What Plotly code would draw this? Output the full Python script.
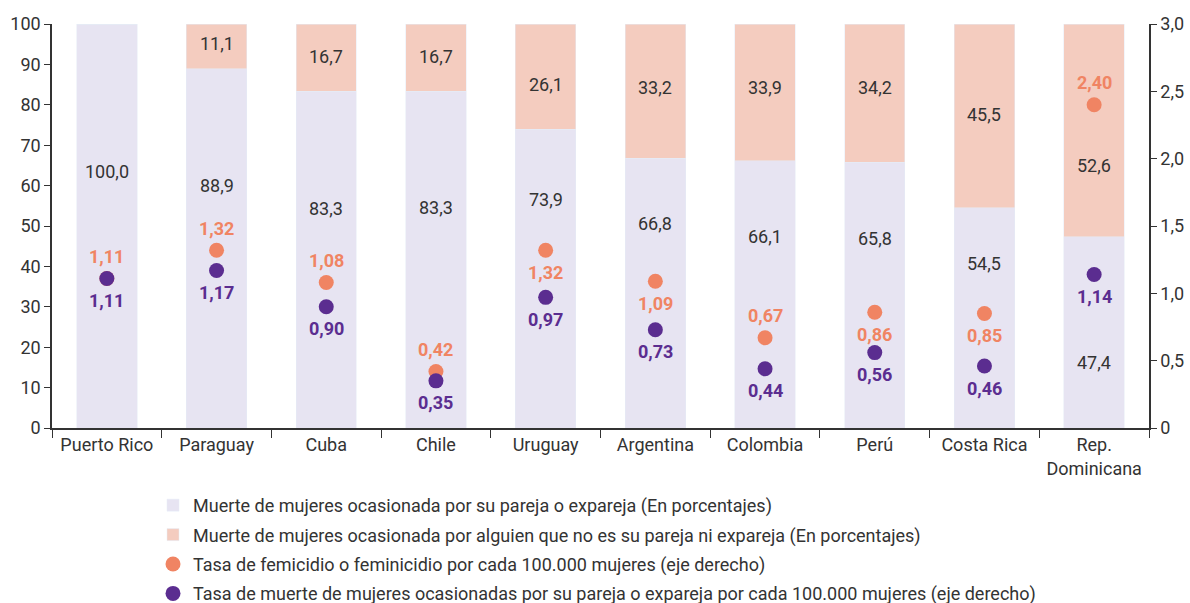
import plotly.graph_objects as go

paises = ["Puerto Rico", "Paraguay", "Cuba", "Chile", "Uruguay", "Argentina",
          "Colombia", "Perú", "Costa Rica", "Rep.<br>Dominicana"]
pareja = [100.0, 88.9, 83.3, 83.3, 73.9, 66.8, 66.1, 65.8, 54.5, 47.4]
no_pareja = [0, 11.1, 16.7, 16.7, 26.1, 33.2, 33.9, 34.2, 45.5, 52.6]
tasa_femicidio = [1.11, 1.32, 1.08, 0.42, 1.32, 1.09, 0.67, 0.86, 0.85, 2.40]
tasa_pareja = [1.11, 1.17, 0.90, 0.35, 0.97, 0.73, 0.44, 0.56, 0.46, 1.14]

# where the bar value labels sit (left axis units)
pos_pareja = [63.5, 60, 54.3, 54.7, 56.5, 50.7, 47.3, 46.8, 40.8, 16.3]
pos_no_pareja = [None, 95.2, 92, 92, 85.1, 84.2, 84.2, 84.2, 77.7, 64.9]
# femicide label above (+1) or below (-1) its dot
lado_fem = [1, 1, 1, 1, -1, -1, 1, -1, -1, 1]

lila = "#E7E4F2"
salmon = "#F4CCBF"
naranja = "#F08463"
morado = "#5B2D90"
gris = "#333333"
fuente = "Roboto, sans-serif"

def coma(v, d=1):
    return f"{v:.{d}f}".replace(".", ",")

fig = go.Figure()
fig.add_trace(go.Bar(x=paises, y=pareja, marker_color=lila, hoverinfo="skip",
                     legendgroup="a",
                     name="Muerte de mujeres ocasionada por su pareja o expareja (En porcentajes)"))
fig.add_trace(go.Bar(x=paises, y=no_pareja, marker_color=salmon, hoverinfo="skip",
                     legendgroup="b",
                     name="Muerte de mujeres ocasionada por alguien que no es su pareja ni expareja (En porcentajes)"))
fig.add_trace(go.Scatter(x=paises, y=tasa_femicidio, yaxis="y2", mode="markers",
                         marker=dict(color=naranja, size=15), legendgroup="c",
                         name="Tasa de femicidio o feminicidio por cada 100.000 mujeres (eje derecho)"))
fig.add_trace(go.Scatter(x=paises, y=tasa_pareja, yaxis="y2", mode="markers",
                         marker=dict(color=morado, size=15), legendgroup="d",
                         name="Tasa de muerte de mujeres ocasionadas por su pareja o expareja por cada 100.000 mujeres (eje derecho)"))

anns = []
for p, v, yy in zip(paises, pareja, pos_pareja):
    anns.append(dict(x=p, y=yy, text=coma(v), showarrow=False,
                     font=dict(size=18, color=gris)))
for p, v, yy in zip(paises, no_pareja, pos_no_pareja):
    if yy is not None:
        anns.append(dict(x=p, y=yy, text=coma(v), showarrow=False,
                         font=dict(size=18, color=gris)))
for p, v, s in zip(paises, tasa_femicidio, lado_fem):
    anns.append(dict(x=p, y=v, yref="y2", yshift=22 * s, text=f"<b>{coma(v, 2)}</b>",
                     showarrow=False, font=dict(size=18, color=naranja)))
for p, v in zip(paises, tasa_pareja):
    anns.append(dict(x=p, y=v, yref="y2", yshift=-22, text=f"<b>{coma(v, 2)}</b>",
                     showarrow=False, font=dict(size=18, color=morado)))

fig.update_layout(
    width=1190, height=603,
    barmode="stack", bargap=0.45,
    paper_bgcolor="white", plot_bgcolor="white",
    font=dict(family=fuente, size=18, color=gris),
    margin=dict(l=52, r=41, t=24, b=175, autoexpand=False),
    annotations=anns,
    xaxis=dict(range=[-0.5, len(paises) - 0.5], showline=True, linecolor=gris,
               linewidth=1.5, ticks="outside", tickson="boundaries", ticklen=8,
               tickcolor=gris, automargin=False, tickfont=dict(size=18, color=gris)),
    yaxis=dict(range=[0, 100], tickvals=list(range(0, 101, 10)), showgrid=False,
               showline=True, linecolor=gris, linewidth=1.5, ticks="outside",
               ticklen=6, tickcolor=gris, zeroline=False, automargin=False,
               tickfont=dict(size=18, color=gris)),
    yaxis2=dict(range=[0, 3], overlaying="y", side="right",
                tickvals=[0, 0.5, 1, 1.5, 2, 2.5, 3],
                ticktext=["0", "0,5", "1,0", "1,5", "2,0", "2,5", "3,0"],
                showgrid=False, showline=True, linecolor=gris, linewidth=1.5,
                ticks="outside", ticklen=6, tickcolor=gris, zeroline=False,
                automargin=False, tickfont=dict(size=18, color=gris)),
    legend=dict(orientation="v", xref="container", yref="container",
                x=153 / 1190, xanchor="left", y=1 - 487 / 603, yanchor="top",
                font=dict(size=18, color=gris), traceorder="grouped",
                tracegroupgap=3, itemwidth=30),
    showlegend=True,
)

fig.write_html("out.html", config={"displayModeBar": False},
               post_script="document.body.style.margin='0';")
